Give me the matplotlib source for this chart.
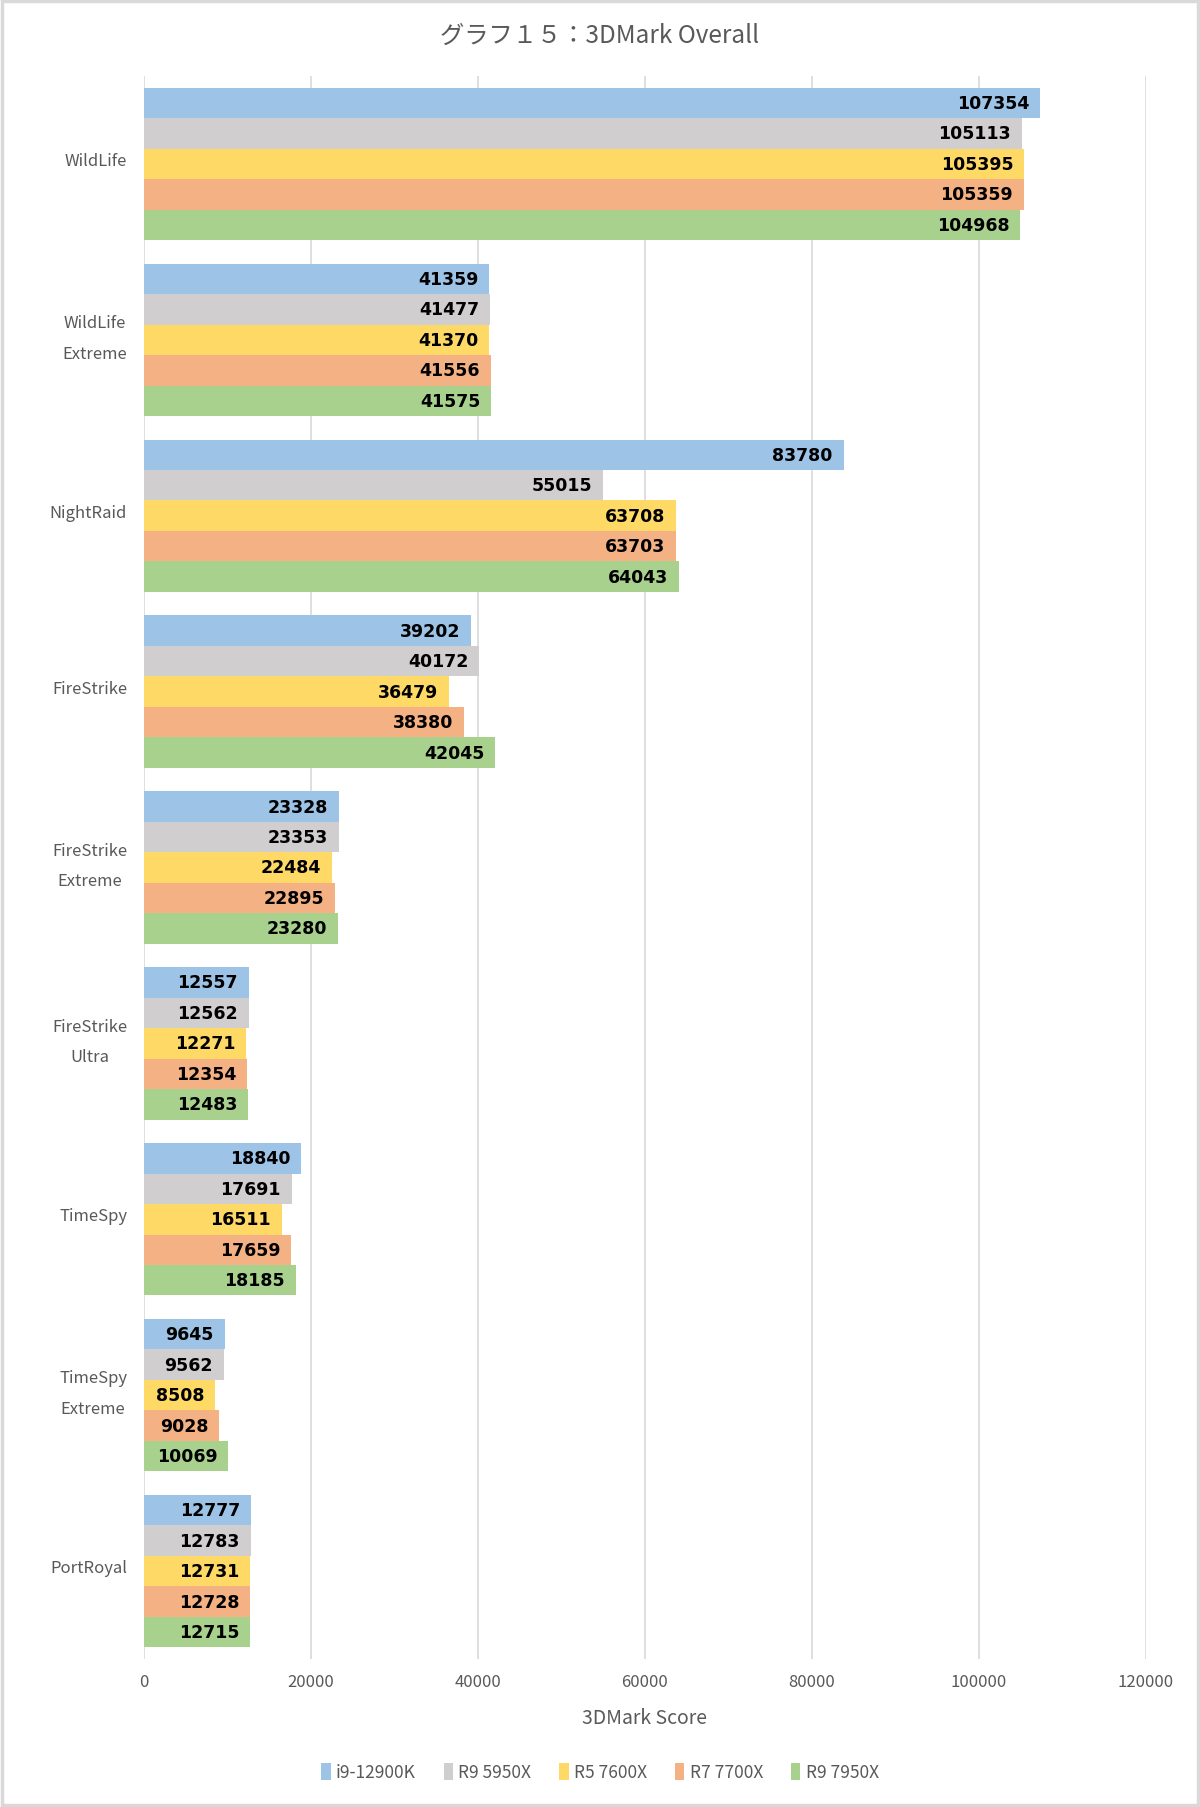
import numpy as np
import matplotlib.pyplot as plt
from matplotlib.patches import Rectangle, Patch
from matplotlib.transforms import blended_transform_factory, offset_copy

plt.rcParams['font.family'] = ['Noto Sans CJK JP', 'DejaVu Sans']

# ------------------------------------------------------------------
# data
# ------------------------------------------------------------------
categories = ["WildLife", "WildLife\nExtreme", "NightRaid", "FireStrike",
              "FireStrike\nExtreme", "FireStrike\nUltra", "TimeSpy",
              "TimeSpy\nExtreme", "PortRoyal"]
series_names = ["i9-12900K", "R9 5950X", "R5 7600X", "R7 7700X", "R9 7950X"]

i9_12900k = [107354, 41359, 83780, 39202, 23328, 12557, 18840, 9645, 12777]
r9_5950x = [105113, 41477, 55015, 40172, 23353, 12562, 17691, 9562, 12783]
r5_7600x = [105395, 41370, 63708, 36479, 22484, 12271, 16511, 8508, 12731]
r7_7700x = [105359, 41556, 63703, 38380, 22895, 12354, 17659, 9028, 12728]
r9_7950x = [104968, 41575, 64043, 42045, 23280, 12483, 18185, 10069, 12715]

x_ticks = [0, 20000, 40000, 60000, 80000, 100000, 120000]

series = [i9_12900k, r9_5950x, r5_7600x, r7_7700x, r9_7950x]
colors = ["#9DC3E6", "#D0CECE", "#FFD966", "#F4B183", "#A9D18E"]
text_gray = "#595959"

# ------------------------------------------------------------------
# figure
# ------------------------------------------------------------------
fig = plt.figure(figsize=(12, 18.08), dpi=100)
ax = fig.add_axes([144 / 1200, 148 / 1808, 1002 / 1200, 1583 / 1808])

n_cat = len(categories)
n_ser = len(series)
group = 0.866
bar_h = group / n_ser
centers = np.arange(n_cat) + 0.5

for j, (vals, col) in enumerate(zip(series, colors)):
    ys = centers - group / 2 + bar_h * (j + 0.5)
    bars = ax.barh(ys, vals, height=bar_h, color=col, zorder=2)
    for b, v in zip(bars, vals):
        ax.text(v - 1300, b.get_y() + b.get_height() / 2, str(v),
                ha="right", va="center", fontsize=12.5, fontweight="bold",
                color="black", family="DejaVu Sans", zorder=3)

ax.set_ylim(n_cat, 0)
ax.set_xlim(0, 120000)
ax.set_yticks(centers)
ax.set_yticklabels([])
ax.set_xticks(x_ticks)
ax.set_xticklabels([str(t) for t in x_ticks], fontsize=12, color=text_gray)
ax.tick_params(axis="both", length=0)
ax.tick_params(axis="x", pad=10)
ax.grid(axis="x", color="#D9D9D9", linewidth=1.2, zorder=0)
for s in ax.spines.values():
    s.set_visible(False)

# category labels: right edge fixed, wrapped lines centred on each other
trans = blended_transform_factory(ax.transAxes, ax.transData)
for cy, lab in zip(centers, categories):
    up = 2 if "\n" in lab else 3.5  # pixels
    t = offset_copy(trans, fig=fig, x=-17 * 0.72, y=up * 0.72, units="points")
    ax.text(0, cy, lab, transform=t, ha="right", va="center",
            multialignment="center", linespacing=2.05,
            fontsize=12, color=text_gray)

ax.set_xlabel("3DMark Score", fontsize=14, color=text_gray, labelpad=12)

fig.text(0.5, 1 - 36 / 1808, "グラフ１５：3DMark Overall", ha="center", va="center",
         fontsize=17.5, color=text_gray)

handles = [Patch(facecolor=c, edgecolor="none", label=n) for c, n in zip(colors, series_names)]
fig.legend(handles=handles, loc="center", bbox_to_anchor=(0.5, 35 / 1808), ncol=5,
           frameon=False, fontsize=12.5, handlelength=0.55, handleheight=1.1,
           handletextpad=0.3, columnspacing=1.6, labelcolor=text_gray)

# light frame round the whole picture
fig.patches.append(Rectangle((0.002, 0.001), 0.996, 0.998, transform=fig.transFigure,
                             fill=False, edgecolor="#D9D9D9", linewidth=2.5))

fig.savefig("out.png", dpi=100, facecolor="white")
